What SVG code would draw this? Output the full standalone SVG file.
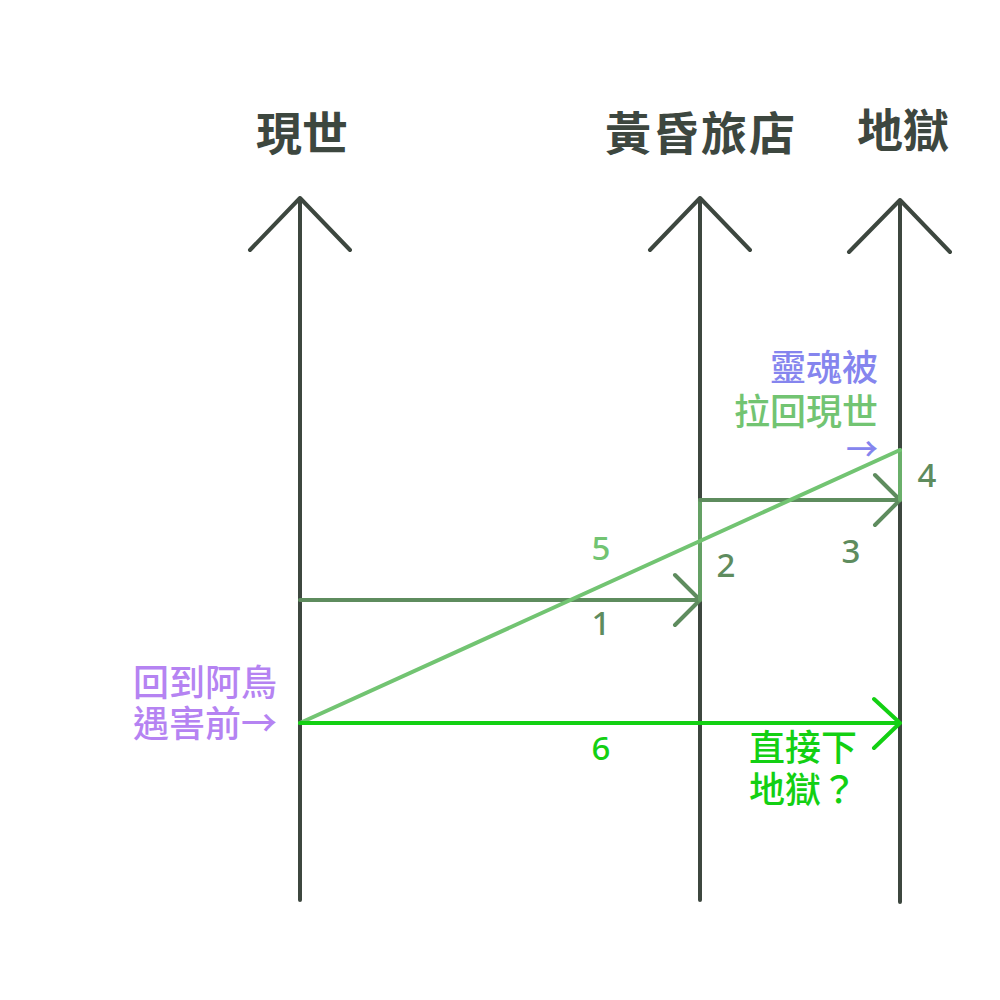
<svg xmlns="http://www.w3.org/2000/svg" width="1000" height="1000" viewBox="0 0 1000 1000">
<style>
.axis{stroke:#3d473f;stroke-width:4;fill:none;stroke-linecap:round;stroke-linejoin:round}
.title{font-family:"Noto Sans CJK TC","Noto Sans CJK SC",sans-serif;font-weight:bold;font-size:46px;fill:#3d473f;text-anchor:middle}
.lbl{font-family:"Noto Sans CJK TC","Noto Sans CJK SC",sans-serif;font-size:36px;font-weight:500}
.num{font-family:"Noto Sans","Noto Sans CJK TC",sans-serif;font-size:33px;font-weight:500;text-anchor:middle}
.c{fill:none;stroke-width:4;stroke-linecap:round;stroke-linejoin:round}
</style>
<rect width="1000" height="1000" fill="#ffffff"/>
<g id="node-xianshi">
<path class="axis" d="M300 900 V198 M250 250 L300 198 L350 250"/>
<text class="title" x="302" y="150">現世</text>
</g>
<g id="node-huanghun">
<path class="axis" d="M700 900 V198 M650 250 L700 198 L750 250"/>
<text class="title" x="701" y="150" style="letter-spacing:2px">黃昏旅店</text>
</g>
<g id="node-diyu">
<path class="axis" d="M900 902 V200 M849 252 L900 200 L950 252"/>
<text class="title" x="903" y="147">地獄</text>
</g>
<g id="connectors">
<path class="c" stroke="#5e8c5e" d="M300 600 H700 M675 575 L700 600 L675 625"/>
<path class="c" stroke="#64a064" d="M700 600 V500"/>
<path class="c" stroke="#5e8c5e" d="M700 500 H900 M875 475 L900 500 L875 525"/>
<path class="c" stroke="#6aaf6a" d="M900 500 V450"/>
<path class="c" stroke="#72c472" d="M300 723 L900 450"/>
<path class="c" stroke="#13d013" d="M300 723 H900 M874 699 L900 723 L874 748"/>
</g>
<g id="labels">
<text class="num" x="601" y="560" fill="#72c472">5</text>
<text class="num" x="601" y="635" fill="#5e8c5e">1</text>
<text class="num" x="726" y="577" fill="#5e8c5e">2</text>
<text class="num" x="851" y="563" fill="#5e8c5e">3</text>
<text class="num" x="927" y="487" fill="#5e8c5e">4</text>
<text class="num" x="601" y="760" fill="#13d013">6</text>
<text class="lbl" x="878" y="381" fill="#8585ee" text-anchor="end">靈魂被</text>
<text class="lbl" x="878" y="425" fill="#72c472" text-anchor="end">拉回現世</text>
<text class="lbl" x="878" y="461" fill="#8585ee" text-anchor="end" style="font-size:32px">→</text>
<text class="lbl" x="277" y="696" fill="#b583f2" text-anchor="end">回到阿鳥</text>
<text class="lbl" x="277" y="737" fill="#b583f2" text-anchor="end">遇害前→</text>
<text class="lbl" x="749" y="761" fill="#13d013">直接下</text>
<text class="lbl" x="749" y="803" fill="#13d013">地獄？</text>
</g>
</svg>
